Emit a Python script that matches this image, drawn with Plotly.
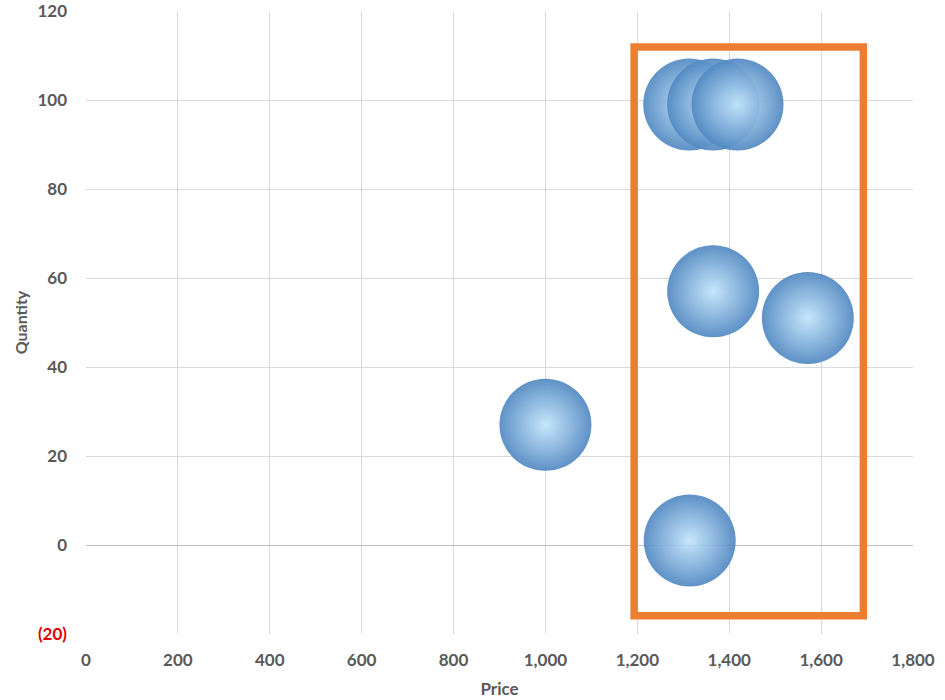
import plotly.graph_objects as go

# Data
price = [1000, 1314, 1365, 1571, 1313, 1365, 1418]
quantity = [27, 1, 57, 51, 99, 99, 99]

x_tickvals = [0, 200, 400, 600, 800, 1000, 1200, 1400, 1600, 1800]
x_ticktext = ["0", "200", "400", "600", "800", "1,000", "1,200", "1,400", "1,600", "1,800"]
y_tickvals = [-20, 0, 20, 40, 60, 80, 100, 120]
y_ticktext = ["<span style='color:#E00000'>(20)</span>", "0", "20", "40", "60", "80", "100", "120"]

# highlight box bounds (data units)
box_x = [1193, 1692]
box_y = [-15.9, 111.9]

font_family = "Lato, 'Open Sans', sans-serif"
grey = "#595959"

fig = go.Figure()
fig.add_trace(go.Scatter(
    x=price, y=quantity, mode="markers",
    marker=dict(
        size=92,
        color="#5289c2",
        gradient=dict(type="radial", color="#c2e4fb"),
        opacity=0.93,
        line=dict(width=0),
    ),
    hoverinfo="x+y",
    showlegend=False,
))

fig.add_shape(type="rect", xref="x", yref="y",
              x0=box_x[0], x1=box_x[1], y0=box_y[0], y1=box_y[1],
              line=dict(color="#ED7D31", width=7.5), fillcolor="rgba(0,0,0,0)",
              layer="above")

fig.update_layout(
    width=945, height=700,
    margin=dict(l=86, r=32, t=11, b=66),
    plot_bgcolor="white", paper_bgcolor="white",
    font=dict(family=font_family, color=grey),
)
fig.update_xaxes(
    range=[0, 1800], tickvals=x_tickvals, ticktext=x_ticktext,
    showgrid=True, gridcolor="#D9D9D9", gridwidth=1,
    zeroline=False, showline=False, automargin=False,
    ticklabeloverflow="allow",
    tickfont=dict(size=17, color=grey, family=font_family, weight="bold"),
    ticklabelstandoff=14,
    title=dict(text="<b>Price</b>", font=dict(size=17, color=grey), standoff=14),
)
fig.update_yaxes(
    range=[-20, 120], tickvals=y_tickvals, ticktext=y_ticktext,
    showgrid=True, gridcolor="#D9D9D9", gridwidth=1,
    zeroline=True, zerolinecolor="#BFBFBF", zerolinewidth=1,
    showline=False, automargin=False,
    ticklabeloverflow="allow",
    tickfont=dict(size=17, color=grey, family=font_family, weight="bold"),
    ticklabelstandoff=18,
    title=dict(text="<b>Quantity</b>", font=dict(size=16, color=grey), standoff=5),
)

fig.write_html("out.html", config={"displayModeBar": False},
               post_script="document.body.style.margin='0';document.body.style.overflow='hidden';")
